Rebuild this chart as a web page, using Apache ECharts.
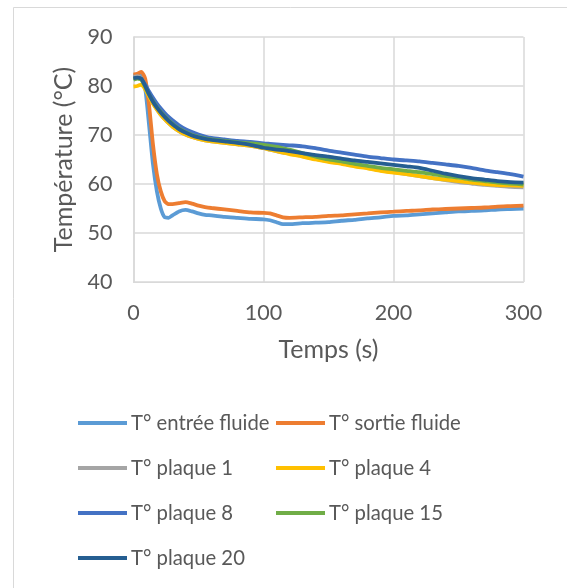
<!DOCTYPE html>
<html>
<head>
<meta charset="utf-8">
<script src="https://cdn.jsdelivr.net/npm/echarts@6/dist/echarts.min.js"></script>
<style>html,body{margin:0;padding:0;background:#fff}#c{width:567px;height:588px}</style>
</head>
<body>
<div id="c"></div>
<script>
const times = [0,3,6,9,12,15,18,21,24,27,30,35,40,45,50,55,60,70,80,90,100,105,110,115,120,130,140,150,160,170,180,190,200,210,220,230,240,250,260,270,280,290,300];

const entreeFluide = [82.0,82.2,82.0,79.5,72.0,64.0,58.5,55.0,53.2,53.1,53.6,54.4,54.7,54.4,54.0,53.7,53.6,53.3,53.1,52.9,52.8,52.6,52.2,51.8,51.8,52.0,52.1,52.2,52.5,52.7,53.0,53.2,53.5,53.6,53.8,54.0,54.2,54.4,54.5,54.6,54.8,54.9,55.0];
const sortieFluide = [82.3,82.5,82.9,81.5,76.0,68.0,62.0,58.5,56.5,55.9,55.9,56.1,56.3,56.0,55.6,55.3,55.1,54.8,54.5,54.2,54.1,54.0,53.6,53.2,53.1,53.2,53.3,53.5,53.6,53.8,54.0,54.2,54.35,54.5,54.6,54.8,54.9,55.0,55.1,55.2,55.4,55.5,55.6];
const plaque1 = [81.8,82.0,81.6,80.0,78.0,76.5,75.2,74.1,73.2,72.4,71.7,70.8,70.1,69.6,69.2,68.9,68.7,68.4,68.1,67.8,67.3,67.0,66.7,66.4,66.2,65.7,65.1,64.6,64.2,63.7,63.3,62.8,62.4,62.0,61.6,61.2,60.8,60.4,60.1,59.8,59.6,59.4,59.3];
const plaque4 = [79.9,80.0,80.3,79.3,77.8,76.4,75.2,74.1,73.2,72.4,71.7,70.8,70.1,69.6,69.2,68.9,68.7,68.4,68.1,67.8,67.3,67.0,66.7,66.4,66.1,65.6,65.0,64.5,64.1,63.6,63.2,62.7,62.3,62.0,61.6,61.2,60.9,60.6,60.3,60.0,59.8,59.7,59.6];
const plaque8 = [81.4,81.6,81.4,80.3,78.9,77.6,76.4,75.4,74.5,73.7,73.0,72.0,71.2,70.6,70.1,69.7,69.4,69.1,68.8,68.6,68.3,68.2,68.1,68.0,67.9,67.7,67.3,66.8,66.4,66.0,65.6,65.3,65.0,64.8,64.6,64.3,64.0,63.7,63.3,62.8,62.4,62.0,61.5];
const plaque15 = [81.3,81.5,81.3,79.8,78.2,76.9,75.7,74.7,73.8,73.0,72.3,71.3,70.6,70.0,69.6,69.3,69.1,68.8,68.5,68.3,68.0,67.8,67.6,67.3,67.0,66.3,65.6,65.0,64.6,64.1,63.7,63.3,63.0,62.7,62.4,62.0,61.6,61.3,60.9,60.6,60.3,60.1,59.9];
const plaque20 = [81.6,81.7,81.5,80.0,78.3,76.8,75.6,74.6,73.7,72.9,72.2,71.2,70.5,69.9,69.5,69.2,69.0,68.7,68.4,68.0,67.4,67.2,67.0,66.9,66.7,66.3,65.9,65.6,65.2,64.8,64.5,64.2,63.9,63.6,63.3,62.7,62.1,61.6,61.2,60.9,60.6,60.4,60.3];

const seriesNames = ['T° entrée fluide','T° sortie fluide','T° plaque 1','T° plaque 4','T° plaque 8','T° plaque 15','T° plaque 20'];
const seriesValues = [entreeFluide, sortieFluide, plaque1, plaque4, plaque8, plaque15, plaque20];
const seriesColors = ['#5B9BD5','#ED7D31','#A5A5A5','#FFC000','#4472C4','#70AD47','#255E91'];

const FONT = 'Lato';
const TXT = '#595959';
const GRID = '#D9D9D9';

const legendPos = [[78,413],[276,413],[78,458],[276,458],[78,503],[276,503],[78,548]];

const chart = echarts.init(document.getElementById('c'), null, {renderer:'canvas'});
chart.setOption({
  animation:false,
  backgroundColor:'#fff',
  textStyle:{fontFamily:FONT},
  graphic:[{type:'rect',shape:{x:13.5,y:7.5,width:700,height:700},style:{fill:'none',stroke:GRID,lineWidth:1},silent:true}],
  grid:{left:133.5,right:43.5,top:37,bottom:306,containLabel:false},
  xAxis:{type:'value',min:0,max:300,interval:100,
    name:'Temps (s)',nameLocation:'middle',nameGap:55,
    nameTextStyle:{color:TXT,fontSize:25,fontFamily:FONT},
    axisLine:{show:true,lineStyle:{color:GRID,width:1}},
    axisTick:{show:false},
    axisLabel:{color:TXT,fontSize:21.5,fontFamily:FONT,margin:20},
    splitLine:{show:true,lineStyle:{color:GRID,width:1.5}}},
  yAxis:{type:'value',min:40,max:90,interval:10,
    name:'Température (°C)',nameLocation:'middle',nameGap:56,
    nameTextStyle:{color:TXT,fontSize:25,fontFamily:FONT},
    axisLine:{show:true,lineStyle:{color:GRID,width:1.5}},
    axisTick:{show:false},
    axisLabel:{color:TXT,fontSize:21.5,fontFamily:FONT,margin:21},
    splitLine:{show:true,lineStyle:{color:GRID,width:1.5}}},
  legend: seriesNames.map((n,i)=>({
    data:[n], left:legendPos[i][0], top:legendPos[i][1], padding:0,
    icon:'rect', itemWidth:49, itemHeight:4, itemGap:0,
    textStyle:{color:TXT,fontSize:20.3,fontFamily:FONT,padding:[0,0,0,-1]},
    selectedMode:false
  })),
  series: seriesNames.map((n,i)=>({
    name:n, type:'line', symbol:'none', showSymbol:false, smooth:0.2,
    color:seriesColors[i],
    lineStyle:{color:seriesColors[i],width:3.8},
    data: times.map((t,k)=>[t, seriesValues[i][k]])
  }))
});
</script>
</body>
</html>
